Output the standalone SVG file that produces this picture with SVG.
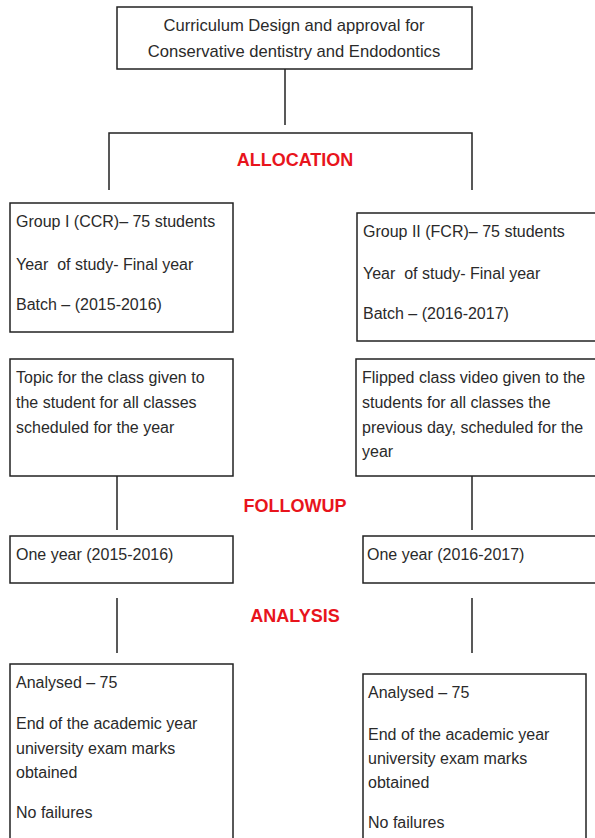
<svg xmlns="http://www.w3.org/2000/svg" width="595" height="838" viewBox="0 0 595 838">
<style>
.box{fill:#fff;stroke:#222;stroke-width:1.5}
.t{font-family:"Liberation Sans",Arial,sans-serif;font-size:16px;fill:#2a2a2a}
.tt{font-size:16.6px}
.c{text-anchor:middle}
.h{font-family:"Liberation Sans",Arial,sans-serif;font-size:18px;font-weight:bold;fill:#e8141c;text-anchor:middle}
.ln{stroke:#222;stroke-width:1.5;fill:none}
</style>
<rect width="595" height="838" fill="#fff"/>
<g id="connectors">
<path class="ln" d="M285 69V125"/>
<path class="ln" d="M109 190V133H472V190"/>
<path class="ln" d="M117 476V530"/>
<path class="ln" d="M472 476V530"/>
<path class="ln" d="M117 598V653"/>
<path class="ln" d="M472 598V653"/>
</g>
<g id="labels">
<text class="h" x="295" y="166">ALLOCATION</text>
<text class="h" x="295" y="512">FOLLOWUP</text>
<text class="h" x="295" y="622">ANALYSIS</text>
</g>
<g id="top">
<rect class="box" x="117" y="7" width="355" height="62"/>
<text class="t tt c" x="294" y="31">Curriculum Design and approval for</text>
<text class="t tt c" x="294" y="57">Conservative dentistry and Endodontics</text>
</g>
<g id="group1">
<rect class="box" x="10" y="203" width="223" height="129"/>
<text class="t" x="16" y="227">Group I (CCR)– 75 students</text>
<text class="t" x="16" y="270" xml:space="preserve">Year  of study- Final year</text>
<text class="t" x="16" y="310">Batch – (2015-2016)</text>
</g>
<g id="group2">
<rect class="box" x="357" y="213" width="250" height="128"/>
<text class="t" x="363" y="237">Group II (FCR)– 75 students</text>
<text class="t" x="363" y="279" xml:space="preserve">Year  of study- Final year</text>
<text class="t" x="363" y="319">Batch – (2016-2017)</text>
</g>
<g id="topic">
<rect class="box" x="10" y="359" width="223" height="117"/>
<text class="t" x="16" y="383">Topic for the class given to</text>
<text class="t" x="16" y="408">the student for all classes</text>
<text class="t" x="16" y="433">scheduled for the year</text>
</g>
<g id="flipped">
<rect class="box" x="356" y="359" width="250" height="117"/>
<text class="t" x="362" y="383">Flipped class video given to the</text>
<text class="t" x="362" y="408">students for all classes the</text>
<text class="t" x="362" y="433">previous day, scheduled for the</text>
<text class="t" x="362" y="457">year</text>
</g>
<g id="oneyear1">
<rect class="box" x="10" y="536" width="223" height="47"/>
<text class="t" x="16" y="560">One year (2015-2016)</text>
</g>
<g id="oneyear2">
<rect class="box" x="363" y="536" width="250" height="47"/>
<text class="t" x="367" y="560">One year (2016-2017)</text>
</g>
<g id="analysis1">
<rect class="box" x="10" y="664" width="223" height="200"/>
<text class="t" x="16" y="688">Analysed – 75</text>
<text class="t" x="16" y="729">End of the academic year</text>
<text class="t" x="16" y="754">university exam marks</text>
<text class="t" x="16" y="778">obtained</text>
<text class="t" x="16" y="818">No failures</text>
</g>
<g id="analysis2">
<rect class="box" x="363" y="674" width="223" height="200"/>
<text class="t" x="368" y="698">Analysed – 75</text>
<text class="t" x="368" y="740">End of the academic year</text>
<text class="t" x="368" y="764">university exam marks</text>
<text class="t" x="368" y="788">obtained</text>
<text class="t" x="368" y="828">No failures</text>
</g>
</svg>
